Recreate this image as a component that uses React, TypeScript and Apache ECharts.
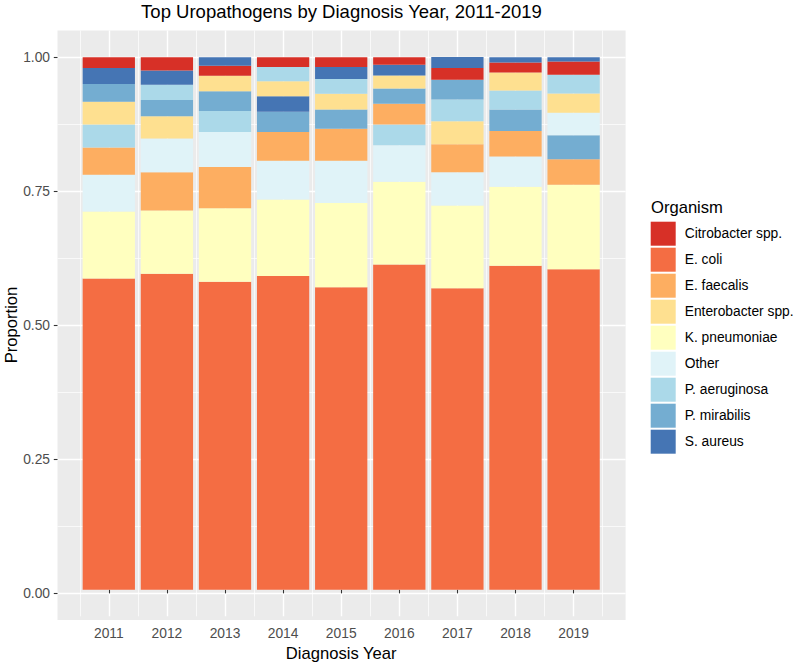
import React, { useEffect, useRef } from "react";
import * as echarts from "echarts";

const years = ["2011", "2012", "2013", "2014", "2015", "2016", "2017", "2018", "2019"];
const organisms = [
  "Citrobacter spp.",
  "E. coli",
  "E. faecalis",
  "Enterobacter spp.",
  "K. pneumoniae",
  "Other",
  "P. aeruginosa",
  "P. mirabilis",
  "S. aureus",
];
const colors = ["#D73027", "#F46D43", "#FDAE61", "#FEE090", "#FFFFBF", "#E0F3F8", "#ABD9E9", "#74ADD1", "#4575B4"];

const citrobacter = [0.0205, 0.025, 0.0187, 0.0187, 0.0187, 0.0144, 0.0219, 0.0187, 0.0248];
const ecoli = [0.5845, 0.5933, 0.5784, 0.5888, 0.5677, 0.6106, 0.5659, 0.6082, 0.6019];
const efaecalis = [0.0511, 0.0717, 0.0771, 0.0541, 0.0605, 0.0386, 0.0528, 0.0478, 0.048];
const enterobacter = [0.0423, 0.0422, 0.0293, 0.028, 0.0293, 0.0248, 0.043, 0.0342, 0.0363];
const kpneumoniae = [0.1256, 0.1186, 0.138, 0.1437, 0.1586, 0.1554, 0.1554, 0.1485, 0.1585];
const other = [0.069, 0.0634, 0.0658, 0.0727, 0.0789, 0.0685, 0.0623, 0.0567, 0.0423];
const paeruginosa = [0.0435, 0.029, 0.0395, 0.0268, 0.028, 0.0392, 0.041, 0.0354, 0.0352];
const pmirabilis = [0.0336, 0.0301, 0.037, 0.0381, 0.036, 0.0286, 0.0373, 0.0405, 0.0448];
const saureus = [0.0299, 0.0267, 0.0162, 0.0291, 0.0223, 0.0199, 0.0205, 0.01, 0.0082];

const yMajorTicks = [0, 0.25, 0.5, 0.75, 1];
const yMinorTicks = [0.125, 0.375, 0.625, 0.875];

const FONT = "'Liberation Sans', Arial, sans-serif";

export default function App() {
  const ref = useRef<HTMLDivElement>(null);
  useEffect(() => {
    if (!ref.current) return;
    const chart = echarts.init(ref.current, undefined, { renderer: "svg" });
    const valuesByOrg = [citrobacter, ecoli, efaecalis, enterobacter, kpneumoniae, other, paeruginosa, pmirabilis, saureus];
    const xMajor = years.map(Number);

    const rankSeries = organisms.map((_, rank) => ({
      type: "bar",
      name: "rank" + rank,
      stack: "p",
      xAxisIndex: 1,
      yAxisIndex: 2,
      barWidth: "90%",
      silent: true,
      data: years.map((_y, yi) => {
        const sorted = organisms
          .map((_o, oi) => ({ oi, v: valuesByOrg[oi][yi] }))
          .sort((a, b) => b.v - a.v);
        const it = sorted[rank];
        return { value: it.v, itemStyle: { color: colors[it.oi] } };
      }),
    }));
    const legendSeries = organisms.map((o, oi) => ({
      type: "bar",
      name: o,
      stack: "p",
      xAxisIndex: 1,
      yAxisIndex: 2,
      barWidth: "90%",
      data: [],
      itemStyle: { color: colors[oi] },
    }));

    const hidden = {
      axisLine: { show: false },
      axisTick: { show: false },
      axisLabel: { show: false },
      splitLine: { show: false },
    };

    chart.setOption({
      animation: false,
      backgroundColor: "#FFFFFF",
      textStyle: { fontFamily: FONT },
      title: [
        {
          text: "Top Uropathogens by Diagnosis Year, 2011-2019",
          left: 341.5,
          top: 2,
          textAlign: "center",
          padding: 0,
          textStyle: { fontFamily: FONT, fontSize: 18.5, fontWeight: "normal", color: "#000000" },
        },
        {
          text: "Organism",
          left: 651,
          top: 198.7,
          padding: 0,
          textStyle: { fontFamily: FONT, fontSize: 16.6, fontWeight: "normal", color: "#000000" },
        },
      ],
      graphic: [
        {
          type: "text",
          x: 11,
          y: 325,
          rotation: Math.PI / 2,
          silent: true,
          style: {
            text: "Proportion",
            fontFamily: FONT,
            fontSize: 16.6,
            fill: "#000000",
            align: "center",
            verticalAlign: "middle",
          },
        },
      ],
      legend: {
        data: organisms,
        orient: "vertical",
        left: 650.7,
        top: 221.7,
        itemWidth: 25,
        itemHeight: 24,
        itemGap: 2,
        icon: "rect",
        padding: 0,
        selectedMode: false,
        textStyle: { fontFamily: FONT, fontSize: 13.8, color: "#000000", padding: [6, 0, 0, 4] },
      },
      grid: [
        { left: 79.75, top: 30.5, width: 522.9, height: 589.5, show: false, containLabel: false },
        {
          left: 57.5,
          top: 30.5,
          width: 568.1,
          height: 589.5,
          show: true,
          backgroundColor: "#EBEBEB",
          borderWidth: 0,
          borderColor: "transparent",
          containLabel: false,
        },
      ],
      xAxis: [
        { type: "value", gridIndex: 1, min: 0, max: 1, ...hidden },
        {
          type: "category",
          gridIndex: 0,
          data: years,
          boundaryGap: true,
          position: "bottom",
          axisLine: { show: false },
          axisTick: { show: true, alignWithLabel: true, length: 3.7, lineStyle: { color: "#333333", width: 1.1 } },
          axisLabel: { show: true, margin: 9.8, color: "#4D4D4D", fontSize: 13.8, fontFamily: FONT },
          splitLine: { show: true, lineStyle: { color: "#FFFFFF", width: 0.7 } },
          name: "Diagnosis Year",
          nameLocation: "middle",
          nameGap: 25.5,
          nameTextStyle: { fontFamily: FONT, fontSize: 16.6, color: "#000000" },
        },
        {
          type: "value",
          gridIndex: 0,
          min: 2010.5,
          max: 2019.5,
          position: "top",
          axisLine: { show: false },
          axisTick: { show: false, customValues: xMajor },
          axisLabel: { show: false, customValues: xMajor },
          splitLine: { show: true, lineStyle: { color: "#FFFFFF", width: 1.4 } },
        },
      ],
      yAxis: [
        {
          type: "value",
          gridIndex: 1,
          min: -0.05,
          max: 1.05,
          position: "left",
          axisLine: { show: false },
          axisTick: { show: true, length: 3.7, customValues: yMajorTicks, lineStyle: { color: "#333333", width: 1.1 } },
          axisLabel: {
            show: true,
            customValues: yMajorTicks,
            margin: 7.5,
            color: "#4D4D4D",
            fontSize: 13.8,
            fontFamily: FONT,
            padding: [3, 0, 0, 0],
            formatter: (v: number) => v.toFixed(2),
          },
          splitLine: { show: true, lineStyle: { color: "#FFFFFF", width: 1.4 } },
        },
        {
          type: "value",
          gridIndex: 1,
          min: -0.05,
          max: 1.05,
          position: "right",
          axisLine: { show: false },
          axisTick: { show: false, customValues: yMinorTicks },
          axisLabel: { show: false, customValues: yMinorTicks },
          splitLine: { show: true, lineStyle: { color: "#FFFFFF", width: 0.7 } },
        },
        { type: "value", gridIndex: 0, min: -0.05, max: 1.05, ...hidden },
      ],
      series: [...rankSeries, ...legendSeries],
    });
    return () => chart.dispose();
  }, []);
  return (
    <div
      ref={ref}
      style={{ position: "fixed", left: 0, top: 0, width: 796, height: 667, background: "#FFFFFF" }}
    />
  );
}
